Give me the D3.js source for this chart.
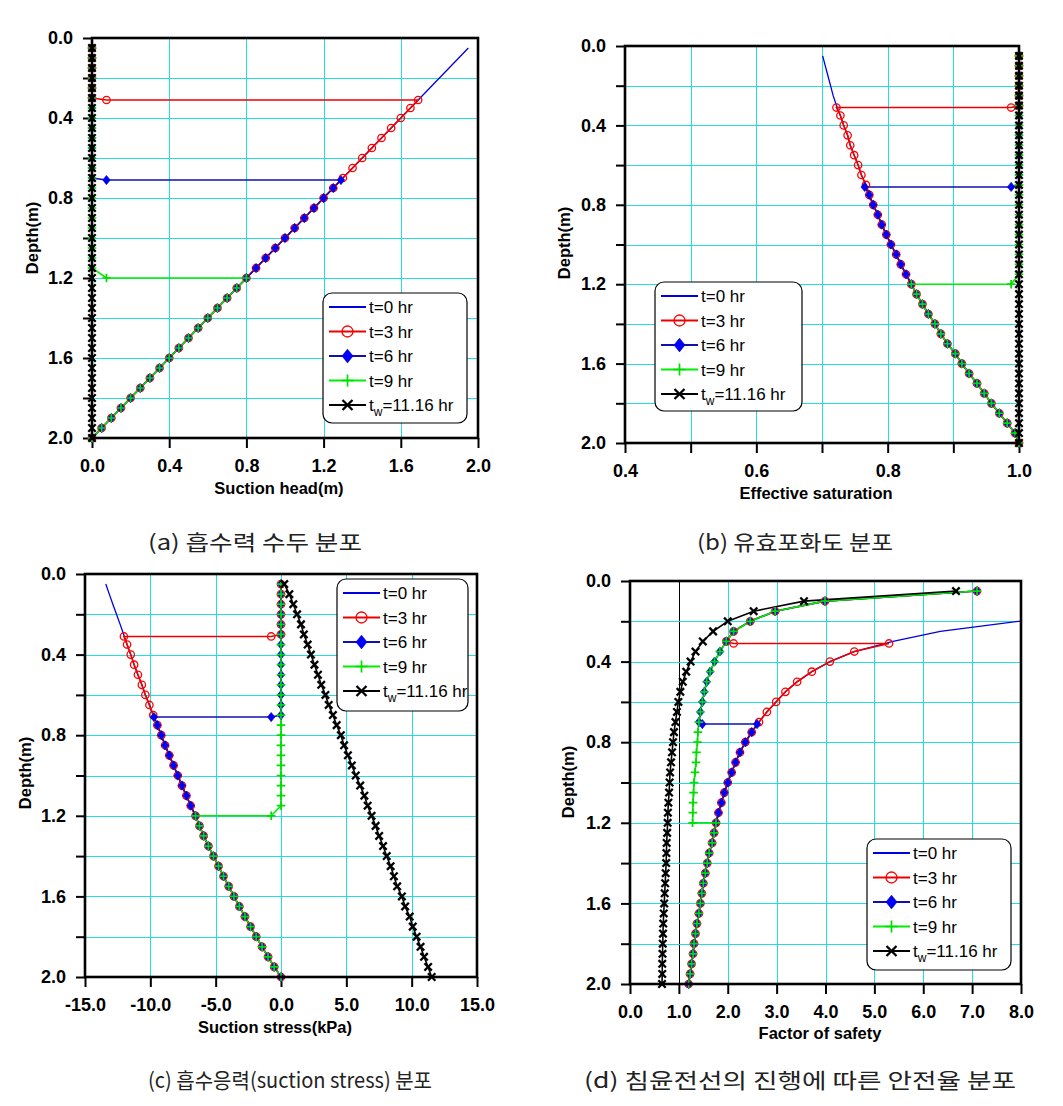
<!DOCTYPE html>
<html><head><meta charset="utf-8">
<script src="https://cdn.jsdelivr.net/npm/d3@7"></script>
<style>body{margin:0;background:#fff} svg{display:block}</style>
</head><body>
<svg id="chart" width="1063" height="1106"></svg>
<script>
// ---------------- DATA ----------------
const depths = [0.05,0.10,0.15,0.20,0.25,0.30,0.35,0.40,0.45,0.50,0.55,0.60,0.65,0.70,0.75,0.80,0.85,0.90,0.95,1.00,
                1.05,1.10,1.15,1.20,1.25,1.30,1.35,1.40,1.45,1.50,1.55,1.60,1.65,1.70,1.75,1.80,1.85,1.90,1.95,2.00];
const seriesNames = ["t=0 hr","t=3 hr","t=6 hr","t=9 hr","tw=11.16 hr"];
const frontDepths = [0.31, 0.71, 1.20];   // wetting front depth for t=3, 6, 9 hr

// (a) suction head (m)
const suctionHeadInit = [1.95,1.90,1.85,1.80,1.75,1.70,1.65,1.60,1.55,1.50,1.45,1.40,1.35,1.30,1.25,1.20,1.15,1.10,1.05,1.00,
                         0.95,0.90,0.85,0.80,0.75,0.70,0.65,0.60,0.55,0.50,0.45,0.40,0.35,0.30,0.25,0.20,0.15,0.10,0.05,0.00];
const suctionHeadFinal = [0,0,0,0,0,0,0,0,0,0,0,0,0,0,0,0,0,0,0,0,0,0,0,0,0,0,0,0,0,0,0,0,0,0,0,0,0,0,0,0];
const suctionHeadSat = [0,0,0,0,0,0,0,0,0,0,0,0,0,0,0,0,0,0,0,0,0,0,0];
const suctionHeadFront = [[0.075,1.69],[0.075,1.29],[0.075,0.80]];

// (b) effective saturation
const saturationInit = [0.701,0.705,0.709,0.713,0.717,0.722,0.728,0.733,0.739,0.743,0.749,0.755,0.760,0.767,0.772,0.778,0.785,0.791,0.798,0.805,
                        0.813,0.820,0.828,0.836,0.844,0.853,0.862,0.872,0.881,0.891,0.903,0.913,0.924,0.936,0.947,0.958,0.970,0.982,0.994,1.000];
const saturationFinal = [1,1,1,1,1,1,1,1,1,1,1,1,1,1,1,1,1,1,1,1,1,1,1,1,1,1,1,1,1,1,1,1,1,1,1,1,1,1,1,1];
const saturationSat = [1,1,1,1,1,1,1,1,1,1,1,1,1,1,1,1,1,1,1,1,1,1,1];
const saturationFront = [[0.988,0.722],[0.988,0.765],[0.988,0.836]];

// (c) suction stress (kPa)
const stressInit = [-13.41,-13.14,-12.87,-12.59,-12.31,-12.04,-11.78,-11.50,-11.24,-10.95,-10.65,-10.38,-10.07,-9.78,-9.46,-9.16,-8.87,-8.55,-8.22,-7.90,
                    -7.58,-7.24,-6.91,-6.54,-6.24,-5.92,-5.56,-5.17,-4.78,-4.40,-4.00,-3.60,-3.19,-2.76,-2.33,-1.90,-1.45,-0.99,-0.52,0.00];
const stressFinal = [0.25,0.64,0.94,1.23,1.53,1.75,2.04,2.29,2.56,2.83,3.08,3.40,3.65,3.97,4.26,4.58,4.83,5.12,5.42,5.72,
                     6.06,6.38,6.63,6.93,7.24,7.51,7.81,8.09,8.39,8.64,8.89,9.25,9.50,9.85,10.08,10.38,10.68,10.95,11.26,11.53];
const stressSat = [0,0,0,0,0,0,0,0,0,0,0,0,0,0,0,0,0,0,0,0,0,0,0];
const stressFront = [[-0.75,-12.02],[-0.75,-9.72],[-0.75,-6.54]];

// (d) factor of safety
const fsInit = [30.0,15.0,10.4,7.95,6.35,5.38,4.59,4.09,3.72,3.42,3.18,2.99,2.80,2.64,2.49,2.36,2.25,2.16,2.08,2.00,
                1.93,1.87,1.81,1.76,1.72,1.68,1.62,1.58,1.54,1.50,1.47,1.44,1.41,1.37,1.34,1.31,1.29,1.26,1.23,1.20];
const fsFinal = [6.67,3.56,2.53,2.00,1.70,1.49,1.34,1.24,1.15,1.08,1.03,0.99,0.96,0.93,0.90,0.88,0.86,0.84,0.82,0.81,
                 0.80,0.785,0.775,0.77,0.76,0.75,0.745,0.74,0.73,0.72,0.71,0.70,0.69,0.68,0.675,0.67,0.665,0.66,0.66,0.655];
const fsSat = [7.10,3.99,2.97,2.46,2.12,1.97,1.84,1.73,1.64,1.57,1.52,1.48,1.44,1.41,1.39,1.38,1.36,1.35,1.33,1.31,1.30,1.29,1.285];
const fsFront = [[2.12,5.30],[1.48,2.60],[1.28,1.76]];

// ticks
const depthTicks = [0,0.2,0.4,0.6,0.8,1.0,1.2,1.4,1.6,1.8,2.0];
const depthLabels = ["0.0","0.4","0.8","1.2","1.6","2.0"];
const headTicks = [0,0.4,0.8,1.2,1.6,2.0];
const headLabels = ["0.0","0.4","0.8","1.2","1.6","2.0"];
const satTicks = [0.4,0.5,0.6,0.7,0.8,0.9,1.0];
const satLabels = ["0.4","0.6","0.8","1.0"];
const stressTicks = [-15,-10,-5,0,5,10,15];
const stressLabels = ["-15.0","-10.0","-5.0","0.0","5.0","10.0","15.0"];
const fsTicks = [0,1,2,3,4,5,6,7,8];
const fsLabels = ["0.0","1.0","2.0","3.0","4.0","5.0","6.0","7.0","8.0"];
const captions = ["(a) 흡수력 수두 분포","(b) 유효포화도 분포","(c) 흡수응력(suction stress) 분포","(d) 침윤전선의 진행에 따른 안전율 분포"];

// ---------------- LAYOUT / STYLE ----------------
const svg = d3.select("#chart");
const FONT = "'Liberation Sans', Arial, Helvetica, sans-serif";
const GRID = "#22dede";
const colors = ["#0000ff","#ff0000","#0000ff","#00ee00","#000000"];
const lineColors = ["#0000e0","#ee0000","#1010b0","#00ee00","#000000"];

const panels = [
  {id:"a", L:92, R:478, T:38, B:438, xDom:[0,2], ticks:headTicks, labels:headLabels, grid:[0.4,0.8,1.2,1.6],
   init:suctionHeadInit, fin:suctionHeadFinal, sat:suctionHeadSat, front:suctionHeadFront,
   xTitle:"Suction head(m)", xt:[279,488], yt:[32,238], leg:[323,293,144,130],
   cap:0, capPos:[255,542], capW:214},
  {id:"b", L:625, R:1019, T:46, B:443, xDom:[0.4,1.0], ticks:satTicks, labels:satLabels, grid:[0.5,0.6,0.7,0.8,0.9],
   init:saturationInit, fin:saturationFinal, sat:saturationSat, front:saturationFront,
   xTitle:"Effective saturation", xt:[816,493], yt:[564,243], leg:[655,282,147,129],
   cap:1, capPos:[795,542], capW:196},
  {id:"c", L:85, R:477, T:574, B:977, xDom:[-15,15], ticks:stressTicks, labels:stressLabels, grid:[-10,-5,0,5,10],
   init:stressInit, fin:stressFinal, sat:stressSat, front:stressFront,
   xTitle:"Suction stress(kPa)", xt:[275,1027], yt:[25,773], leg:[337,579,131,132],
   cap:2, capPos:[290,1080], capW:284},
  {id:"d", L:630, R:1021, T:581, B:984, xDom:[0,8], ticks:fsTicks, labels:fsLabels, grid:[1,2,3,4,5,6,7], blackGrid:1,
   init:fsInit, fin:fsFinal, sat:fsSat, front:fsFront,
   xTitle:"Factor of safety", xt:[820,1033], yt:[568,782], leg:[867,839,144,131],
   cap:3, capPos:[800,1080], capW:432}
];

function buildSeries(p){
  const s = [];
  s.push(depths.map((d,i)=>[p.init[i], d]));
  frontDepths.forEach((f,k)=>{
    const pts = [];
    depths.forEach((d,i)=>{ if (d < f - 1e-6) pts.push([p.sat[i], d]); });
    pts.push([p.front[k][0], f]);
    pts.push([p.front[k][1], f]);
    depths.forEach((d,i)=>{ if (d > f + 1e-6) pts.push([p.init[i], d]); });
    s.push(pts);
  });
  s.push(depths.map((d,i)=>[p.fin[i], d]));
  return s;
}

function drawMarker(g, type, cx, cy, sz){
  if (type===1){
    g.append("circle").attr("cx",cx).attr("cy",cy).attr("r",sz).attr("fill","none")
     .attr("stroke",colors[1]).attr("stroke-width",1.3);
  } else if (type===2){
    g.append("path").attr("transform",`translate(${cx},${cy})`)
     .attr("d",`M0,${-sz*1.25}L${sz},0L0,${sz*1.25}L${-sz},0Z`).attr("fill",colors[2]).attr("stroke","#0000aa").attr("stroke-width",0.6);
  } else if (type===3){
    g.append("path").attr("transform",`translate(${cx},${cy})`)
     .attr("d",`M${-sz},0H${sz}M0,${-sz}V${sz}`).attr("stroke","#00dd00").attr("stroke-width",1.7);
  } else if (type===4){
    g.append("path").attr("transform",`translate(${cx},${cy})`)
     .attr("d",`M${-sz},${-sz}L${sz},${sz}M${-sz},${sz}L${sz},${-sz}`).attr("stroke","#000").attr("stroke-width",2.3);
  }
}

const px = v => Math.round(v) + 0.5;

panels.forEach(p=>{
  const x = d3.scaleLinear().domain(p.xDom).range([p.L,p.R]);
  const y = d3.scaleLinear().domain([0,2]).range([p.T,p.B]);
  const g = svg.append("g");
  const clipId = "clip"+p.id;
  svg.append("clipPath").attr("id",clipId).append("rect")
     .attr("x",p.L-3).attr("y",p.T).attr("width",p.R-p.L+3).attr("height",p.B-p.T+3);

  // grid
  g.selectAll(".gv").data(p.grid).enter().append("line")
   .attr("x1",d=>px(x(d))).attr("x2",d=>px(x(d))).attr("y1",p.T).attr("y2",p.B)
   .attr("stroke",d=>(p.blackGrid===d)?"#000":GRID).attr("stroke-width",1.2).attr("shape-rendering","crispEdges");
  g.selectAll(".gh").data(depthTicks.slice(1,-1)).enter().append("line")
   .attr("x1",p.L).attr("x2",p.R).attr("y1",d=>px(y(d))).attr("y2",d=>px(y(d)))
   .attr("stroke",GRID).attr("stroke-width",1.2).attr("shape-rendering","crispEdges");

  // axes
  const lblSet = new Set(p.labels);
  const fmtX = d=>{ const s = d.toFixed(1); return lblSet.has(s)?s:""; };
  const ax = g.append("g").attr("transform",`translate(0,${p.B})`)
    .call(d3.axisBottom(x).tickValues(p.ticks).tickSize(10).tickSizeOuter(0).tickPadding(11).tickFormat(fmtX));
  const dl = new Set(depthLabels);
  const ay = g.append("g").attr("transform",`translate(${p.L},0)`)
    .call(d3.axisLeft(y).tickValues(depthTicks).tickSize(9).tickSizeOuter(0).tickPadding(10)
      .tickFormat(d=>{const s=d.toFixed(1); return dl.has(s)?s:"";}));
  [ax,ay].forEach(a=>{
    a.select(".domain").remove();
    a.selectAll(".tick line").attr("stroke","#000").attr("stroke-width",2);
    a.selectAll(".tick text").attr("fill","#000").style("font-family",FONT)
      .style("font-size","18px").style("font-weight","bold");
  });

  // series (lines clipped to plot, markers not)
  const data = buildSeries(p);
  const line = d3.line().x(d=>x(d[0])).y(d=>y(d[1]));
  const lg0 = g.append("g").attr("clip-path",`url(#${clipId})`);
  data.forEach((pts,k)=>{
    lg0.append("path").attr("d",line(pts)).attr("fill","none")
      .attr("stroke",lineColors[k]).attr("stroke-width",k===0?1.3:1.6);
  });
  data.forEach((pts,k)=>{
    if (k===0) return;
    const mg = g.append("g");
    const sz = k===3?4.3:(k===4?3.7:3.7);
    pts.forEach(pt=>{ if (pt[0]>=p.xDom[0] && pt[0]<=p.xDom[1]) drawMarker(mg,k,x(pt[0]),y(pt[1]),sz); });
  });

  // frame
  g.append("rect").attr("x",p.L).attr("y",p.T).attr("width",p.R-p.L).attr("height",p.B-p.T)
   .attr("fill","none").attr("stroke","#000").attr("stroke-width",2.6);

  // titles
  g.append("text").attr("x",p.xt[0]).attr("y",p.xt[1]).attr("dy","0.36em").attr("text-anchor","middle")
   .style("font-family",FONT).style("font-size","16.5px").style("font-weight","bold").text(p.xTitle);
  g.append("text").attr("transform",`translate(${p.yt[0]},${p.yt[1]}) rotate(-90)`).attr("dy","0.36em")
   .attr("text-anchor","middle").style("font-family",FONT).style("font-size","16.5px").style("font-weight","bold").text("Depth(m)");

  // legend
  const [lx,ly,lw,lh] = p.leg;
  const lg = g.append("g");
  lg.append("rect").attr("x",lx).attr("y",ly).attr("width",lw).attr("height",lh).attr("rx",9)
    .attr("fill","#fff").attr("stroke","#000").attr("stroke-width",1.2);
  seriesNames.forEach((nm,k)=>{
    const cy = ly+14+k*24.5;
    lg.append("line").attr("x1",lx+6).attr("x2",lx+43).attr("y1",cy).attr("y2",cy)
      .attr("stroke",lineColors[k]).attr("stroke-width",1.8);
    if (k>0) drawMarker(lg,k,lx+24.5,cy,k===3?6:(k===4?5:5.5));
    const t = lg.append("text").attr("x",lx+46).attr("y",cy).attr("dy","0.36em")
      .style("font-family",FONT).style("font-size","17px");
    if (k===4){
      t.append("tspan").text("t");
      t.append("tspan").attr("dy","5").style("font-size","12px").text("w");
      t.append("tspan").attr("dy","-5").text("=11.16 hr");
    } else t.text(nm);
  });

  // caption
  svg.append("text").attr("x",p.capPos[0]).attr("y",p.capPos[1]).attr("dy","0.36em").attr("text-anchor","middle")
    .attr("textLength",p.capW).attr("lengthAdjust","spacingAndGlyphs")
    .style("font-family","'Noto Sans CJK KR', sans-serif").style("font-size","21px").attr("fill","#222")
    .text(captions[p.cap]);
});
</script>
</body></html>
